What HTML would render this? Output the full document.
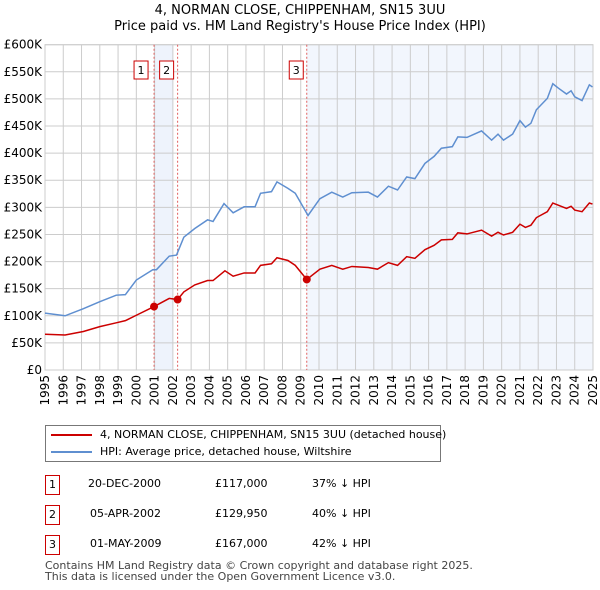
<!DOCTYPE html>
<html><head><meta charset="utf-8"><style>
body{margin:0;width:600px;height:590px;background:#fff;font-family:"DejaVu Sans","Liberation Sans",sans-serif;color:#000;overflow:hidden;position:relative}
.t{position:absolute;white-space:nowrap}
</style></head><body>
<div class="t" style="left:0;width:600px;text-align:center;top:3px;font-size:13px;line-height:16px">4, NORMAN CLOSE, CHIPPENHAM, SN15 3UU<br>Price paid vs. HM Land Registry's House Price Index (HPI)</div>
<svg id="chart" width="600" height="420" style="position:absolute;left:0;top:0" font-family="DejaVu Sans, Liberation Sans, sans-serif"></svg>
<div style="position:absolute;left:45px;top:425px;width:396px;height:37px;border:1px solid #777;box-sizing:border-box">
 <div class="t" style="left:5px;top:2px;font-size:11px;line-height:14px"><span style="display:inline-block;width:41px;border-top:2px solid #cc0000;vertical-align:middle;margin-right:8px"></span>4, NORMAN CLOSE, CHIPPENHAM, SN15 3UU (detached house)</div>
 <div class="t" style="left:5px;top:19px;font-size:11px;line-height:14px"><span style="display:inline-block;width:41px;border-top:2px solid #5f8fd0;vertical-align:middle;margin-right:8px"></span>HPI: Average price, detached house, Wiltshire</div>
</div>
<div style="font-size:11px">
 <div class="t" style="left:45px;top:475px;width:15px;height:20px;border:1px solid #cc0000;box-sizing:border-box;text-align:center;line-height:18px">1</div>
 <div class="t" style="left:88px;top:477px">20-DEC-2000</div>
 <div class="t" style="left:215px;top:477px">£117,000</div>
 <div class="t" style="left:312px;top:477px">37% ↓ HPI</div>
 <div class="t" style="left:45px;top:505px;width:15px;height:20px;border:1px solid #cc0000;box-sizing:border-box;text-align:center;line-height:18px">2</div>
 <div class="t" style="left:90px;top:507px">05-APR-2002</div>
 <div class="t" style="left:215px;top:507px">£129,950</div>
 <div class="t" style="left:312px;top:507px">40% ↓ HPI</div>
 <div class="t" style="left:45px;top:535px;width:15px;height:20px;border:1px solid #cc0000;box-sizing:border-box;text-align:center;line-height:18px">3</div>
 <div class="t" style="left:90px;top:537px">01-MAY-2009</div>
 <div class="t" style="left:215px;top:537px">£167,000</div>
 <div class="t" style="left:312px;top:537px">42% ↓ HPI</div>
</div>
<div class="t" style="left:45px;top:560px;font-size:11px;line-height:11px;color:#444">Contains HM Land Registry data © Crown copyright and database right 2025.<br>This data is licensed under the Open Government Licence v3.0.</div>
<script>
const yTicks=[0,50,100,150,200,250,300,350,400,450,500,550,600];
const yTickLabels=["£0","£50K","£100K","£150K","£200K","£250K","£300K","£350K","£400K","£450K","£500K","£550K","£600K"];
const xYears=[1995,1996,1997,1998,1999,2000,2001,2002,2003,2004,2005,2006,2007,2008,2009,2010,2011,2012,2013,2014,2015,2016,2017,2018,2019,2020,2021,2022,2023,2024,2025];
const hpiT=[1995,1996.1,1997.1,1998,1998.9,1999.4,2000,2000.9,2001.1,2001.8,2002.2,2002.6,2003.2,2003.9,2004.2,2004.8,2005.3,2005.9,2006.5,2006.8,2007.4,2007.7,2008.3,2008.7,2009.4,2010.05,2010.7,2011.3,2011.8,2012.7,2013.2,2013.8,2014.3,2014.8,2015.25,2015.8,2016.3,2016.7,2017.3,2017.6,2018.1,2018.9,2019.45,2019.8,2020.1,2020.6,2021.0,2021.3,2021.6,2021.9,2022.5,2022.8,2023.1,2023.55,2023.8,2024.0,2024.4,2024.8,2024.97];
const hpiV=[105,100,113,126,138,139,166,185,185,210,212,245,261,277,274,307,290,301,301,326,329,347,335,326,285,316,328,319,327,328,319,339,332,356,353,381,394,409,412,430,429,441,424,435,424,435,460,448,455,480,501,528,520,509,515,504,497,526,522];
const ppT=[1995,1996.1,1997.1,1998,1998.9,1999.4,2000,2000.97,2001.8,2002.26,2002.6,2003.2,2003.9,2004.2,2004.85,2005.3,2005.9,2006.5,2006.8,2007.4,2007.7,2008.3,2008.7,2009.33,2010.05,2010.7,2011.3,2011.8,2012.7,2013.2,2013.8,2014.3,2014.8,2015.25,2015.8,2016.3,2016.7,2017.3,2017.6,2018.1,2018.9,2019.45,2019.8,2020.1,2020.6,2021.0,2021.3,2021.6,2021.9,2022.5,2022.8,2023.1,2023.55,2023.8,2024.0,2024.4,2024.8,2024.97];
const ppV=[66,64.5,71,80,87,91,101,117,132,130,144,157,165,165,183,173,179,179,193,196,207,202,193,167,186,193,186,191,189,186,198,193,209,206,222,230,240,241,253,251,258,247,254,249,254,269,263,267,281,292,308,304,298,302,295,292,308,306];
const saleT=[2000.97,2002.26,2009.33];
const saleV=[117,129.95,167];
const saleLabels=["1","2","3"];

const L=45,R=593,T=44.7,B=370;
const xs=y=>L+(y-1995)/30*(R-L);
const ys=v=>B-v/600*(B-T);
const svg=document.getElementById('chart');
const NS="http://www.w3.org/2000/svg";
function mk(tag,at){const e=document.createElementNS(NS,tag);for(const k in at)e.setAttribute(k,at[k]);svg.appendChild(e);return e;}
let e;
e=mk('rect',{x:xs(saleT[0]),y:T,width:xs(2002)-xs(saleT[0]),height:B-T,fill:'#eef3fc'});


e=mk('rect',{x:xs(saleT[2]),y:T,width:R-xs(saleT[2]),height:B-T,fill:'#f2f6fd'});


yTicks.forEach((v,i)=>{
 e=mk('line',{x1:L,x2:R,y1:ys(v),y2:ys(v),stroke:'#cccccc','stroke-width':1});
 
 
 e=mk('text',{x:L-3,y:ys(v)+4,'text-anchor':'end','font-size':12});
 e.textContent=yTickLabels[i];
 
 
});
xYears.forEach(yr=>{
 e=mk('line',{x1:xs(yr),x2:xs(yr),y1:T,y2:B,stroke:'#cccccc','stroke-width':1});
 
 
 e=mk('text',{x:0,y:0,'text-anchor':'end','font-size':12,transform:`translate(${xs(yr)+4},${B+5}) rotate(-90)`});
 e.textContent=yr;
 
 
});
e=mk('rect',{x:L,y:T,width:R-L,height:B-T,fill:'none',stroke:'#cccccc'});


const boxOff=[-6,-4,-3.5];
saleT.forEach((t,i)=>{
 e=mk('line',{x1:xs(t),x2:xs(t),y1:T,y2:B,stroke:'#e06060','stroke-dasharray':'2,2','stroke-width':1});
 
 
 const cx=xs(t)+boxOff[i]-7;
 e=mk('rect',{x:cx-7,y:61,width:14,height:18,fill:'#fff',stroke:'#cc0000'});
 
 
 e=mk('text',{x:cx,y:74,'text-anchor':'middle','font-size':11});
 e.textContent=saleLabels[i];
 
 
});
e=mk('polyline',{points:hpiT.map((t,i)=>xs(t)+','+ys(hpiV[i])).join(' '),fill:'none',stroke:'#5f8fd0','stroke-width':1.5});


e=mk('polyline',{points:ppT.map((t,i)=>xs(t)+','+ys(ppV[i])).join(' '),fill:'none',stroke:'#cc0000','stroke-width':1.5});


saleT.forEach((t,i)=>{
 e=mk('circle',{cx:xs(t),cy:ys(saleV[i]),r:4,fill:'#cc0000'});
 
 
});
</script>
</body></html>
